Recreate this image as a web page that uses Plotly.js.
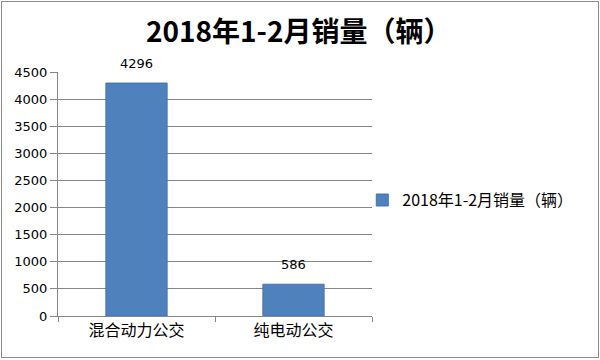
<!DOCTYPE html>
<html>
<head>
<meta charset="utf-8">
<script src="https://cdn.plot.ly/plotly-3.0.1.min.js"></script>
<style>
html,body{margin:0;padding:0;background:#fff;}
#wrap{position:relative;width:600px;height:360px;}
#chart{width:600px;height:360px;}
#frame{position:absolute;left:1px;top:1px;width:596px;height:355px;border:1px solid #8c8c8c;pointer-events:none;}
</style>
</head>
<body>
<div id="wrap"><div id="chart"></div><div id="frame"></div></div>
<script>
const categories = ['混合动力公交', '纯电动公交'];
const sales = [4296, 586];
const seriesName = '2018年1-2月销量（辆）';
const chartTitle = '2018年1-2月销量（辆）';
const yTicks = [0, 500, 1000, 1500, 2000, 2500, 3000, 3500, 4000, 4500];

const cjk = '"Noto Sans CJK SC", "Noto Sans", sans-serif';
const mixed = '"DejaVu Sans", "Noto Sans CJK SC", sans-serif';

const trace = {
  type: 'bar',
  x: categories,
  y: sales,
  name: seriesName,
  showlegend: true,
  textposition: 'none',
  cliponaxis: false,
  marker: {color: '#4F81BD', line: {color: '#4574b0', width: 1}}
};

const labels = categories.map((c, i) => ({
  x: c, y: sales[i], xref: 'x', yref: 'y', text: String(sales[i]),
  showarrow: false, yanchor: 'bottom', yshift: 10,
  font: {family: mixed, size: 13, color: '#000'}
}));

const layout = {
  width: 600, height: 360,
  margin: {l: 58, r: 228, t: 72, b: 44, pad: 0},
  paper_bgcolor: '#fff', plot_bgcolor: '#fff',
  font: {family: cjk, color: '#000', size: 12},
  title: {text: '<b>' + chartTitle + '</b>', font: {family: cjk, size: 28, color: '#000'},
          x: 146 / 600, xanchor: 'left', xref: 'container', y: 0.91, yref: 'container', yanchor: 'middle'},
  bargap: 0.61,
  annotations: labels,
  xaxis: {
    type: 'category', tickson: 'boundaries', ticks: 'outside', ticklen: 5, tickcolor: '#878787',
    showline: true, linecolor: '#878787', linewidth: 1, showgrid: false,
    tickfont: {family: cjk, size: 16, color: '#000'}, fixedrange: true
  },
  yaxis: {
    range: [0, 4500], tickvals: yTicks, ticktext: yTicks.map(String),
    ticks: 'outside', ticklen: 7, tickcolor: '#878787',
    showline: true, linecolor: '#878787', linewidth: 1,
    showgrid: true, gridcolor: '#878787', gridwidth: 1, zeroline: false,
    tickfont: {family: mixed, size: 13, color: '#000'}, fixedrange: true
  },
  legend: {x: 0.969, xanchor: 'left', y: 0.475, yanchor: 'middle',
           font: {family: cjk, size: 16, color: '#000'}, bgcolor: 'rgba(0,0,0,0)'}
};

Plotly.newPlot('chart', [trace], layout, {displayModeBar: false, staticPlot: true});
</script>
</body>
</html>
